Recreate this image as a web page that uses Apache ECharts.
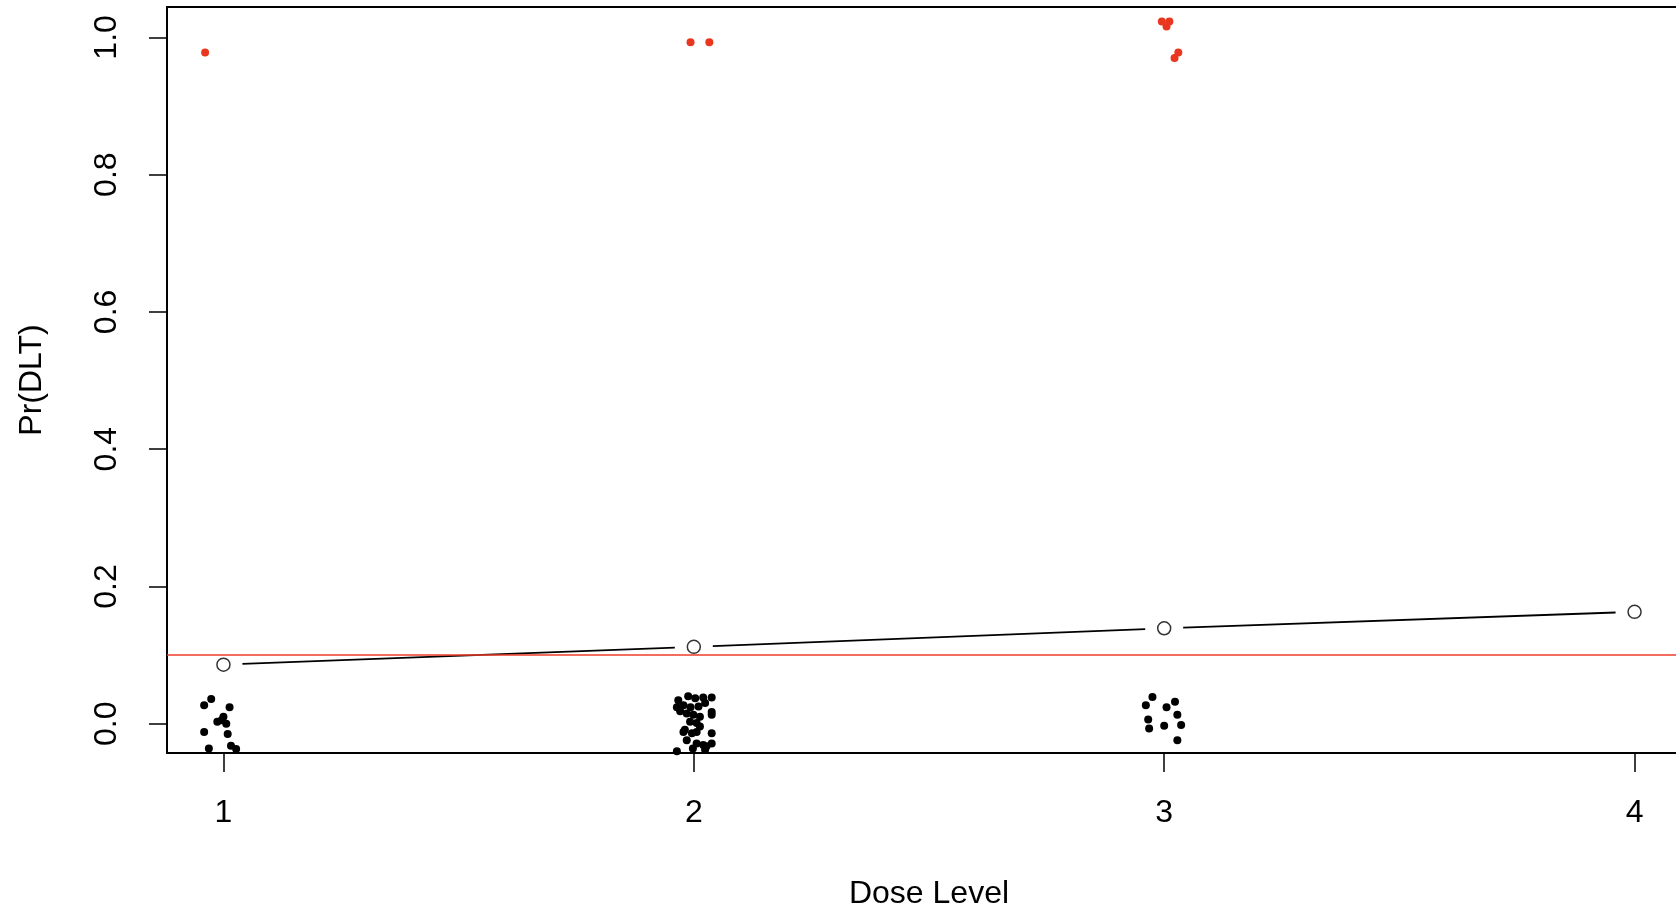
<!DOCTYPE html>
<html>
<head>
<meta charset="utf-8">
<title>Pr(DLT) by dose level</title>
<script src="https://cdn.jsdelivr.net/npm/echarts@6/dist/echarts.min.js"></script>
<style>
  html, body { margin: 0; padding: 0; background: #ffffff; }
  #main { width: 1676px; height: 910px; }
</style>
</head>
<body>
<div id="main"></div>
<script>
// dose levels and model estimate of Pr(DLT) at each one
var doseLevels = [1, 2, 3, 4];
var estProb = [0.086, 0.112, 0.139, 0.163];
var targetProb = 0.098;
var yTicks = [0, 0.2, 0.4, 0.6, 0.8, 1.0];

// jittered patients without DLT (plotted near 0)
var noDltX = [0.974, 0.959, 1.013, 1.000, 0.987, 0.996, 1.006, 0.959, 1.009, 0.969, 1.016, 1.027,
  1.967, 1.988, 2.003, 2.020, 2.038, 1.964, 1.978, 1.993, 2.010, 2.024, 2.038, 1.971, 1.985, 1.999,
  2.013, 2.038, 1.992, 2.006, 2.013, 1.981, 1.978, 1.996, 2.006, 2.038, 1.985, 2.006, 2.020, 2.038,
  2.027, 1.964, 1.998, 2.024,
  2.975, 2.961, 3.005, 3.023, 3.028, 2.966, 2.968, 3.000, 3.036, 3.028];
var noDltY = [0.036, 0.027, 0.024, 0.010, 0.003, 0.005, 0.000, -0.012, -0.015, -0.036, -0.032, -0.037,
  0.034, 0.040, 0.037, 0.038, 0.038, 0.024, 0.027, 0.024, 0.025, 0.030, 0.017, 0.018, 0.015, 0.013,
  0.010, 0.013, 0.003, 0.001, -0.004, -0.009, -0.012, -0.014, -0.012, -0.014, -0.024, -0.029, -0.031, -0.029,
  -0.033, -0.040, -0.036, -0.038,
  0.039, 0.027, 0.024, 0.032, 0.013, 0.006, -0.007, -0.003, -0.002, -0.024];

// jittered patients with DLT (plotted near 1)
var dltX = [0.961, 1.993, 2.033, 2.995, 3.011, 3.005, 3.030, 3.022];
var dltY = [0.978, 0.993, 0.993, 1.023, 1.023, 1.016, 0.978, 0.970];

var chart = echarts.init(document.getElementById('main'));

function zip(xs, ys) {
  var out = [];
  for (var i = 0; i < xs.length; i++) out.push([xs[i], ys[i]]);
  return out;
}

var curve = zip(doseLevels, estProb);
var segments = [];
for (var i = 0; i < curve.length - 1; i++) {
  segments.push([curve[i][0], curve[i][1], curve[i + 1][0], curve[i + 1][1]]);
}

var fontFam = '"Liberation Sans", Arial, sans-serif';
var gap = 19; // R type="b" leaves a gap round each point

var option = {
  backgroundColor: '#ffffff',
  animation: false,
  grid: {
    left: 167,
    top: 7,
    width: 1524,
    height: 746,
    outerBoundsMode: 'none',
    containLabel: false,
    show: true,
    borderColor: '#000000',
    borderWidth: 2,
    backgroundColor: 'transparent'
  },
  xAxis: {
    type: 'value',
    min: 0.88,
    max: 4.12,
    name: 'Dose Level',
    nameLocation: 'middle',
    nameGap: 125,
    nameTextStyle: { fontFamily: fontFam, fontSize: 32, color: '#000' },
    axisLine: { show: false, onZero: false },
    splitLine: { show: false },
    axisTick: {
      show: true, inside: false, length: 19,
      customValues: doseLevels,
      lineStyle: { color: '#000', width: 1.5 }
    },
    axisLabel: {
      show: true, margin: 44,
      customValues: doseLevels,
      fontFamily: fontFam, fontSize: 32, color: '#000'
    }
  },
  yAxis: {
    type: 'value',
    min: -0.0427,
    max: 1.0443,
    name: 'Pr(DLT)',
    nameLocation: 'middle',
    nameRotate: 90,
    nameGap: 119,
    nameTextStyle: { fontFamily: fontFam, fontSize: 32, color: '#000' },
    axisLine: { show: false, onZero: false },
    splitLine: { show: false },
    axisTick: {
      show: true, inside: false, length: 18,
      customValues: yTicks,
      lineStyle: { color: '#000', width: 1.5 }
    },
    axisLabel: {
      show: true, margin: 44, rotate: 90,
      customValues: yTicks,
      formatter: function (v) { return v.toFixed(1); },
      fontFamily: fontFam, fontSize: 32, color: '#000'
    }
  },
  series: [
    {
      // target toxicity line
      type: 'line',
      data: [],
      markLine: {
        silent: true,
        symbol: 'none',
        label: { show: false },
        lineStyle: { color: '#ee3b2b', width: 1.5, type: 'solid' },
        data: [{ yAxis: targetProb }]
      }
    },
    {
      // segments between estimates, with gaps near the circles
      type: 'custom',
      data: segments,
      renderItem: function (params, api) {
        var p1 = api.coord([api.value(0), api.value(1)]);
        var p2 = api.coord([api.value(2), api.value(3)]);
        var dx = p2[0] - p1[0], dy = p2[1] - p1[1];
        var len = Math.sqrt(dx * dx + dy * dy);
        var ux = dx / len, uy = dy / len;
        return {
          type: 'line',
          shape: {
            x1: p1[0] + ux * gap, y1: p1[1] + uy * gap,
            x2: p2[0] - ux * gap, y2: p2[1] - uy * gap
          },
          style: { stroke: '#000', lineWidth: 1.8 }
        };
      },
      z: 3
    },
    {
      type: 'scatter',
      data: curve,
      symbol: 'circle',
      symbolSize: 13,
      itemStyle: { color: '#ffffff', borderColor: '#000', borderWidth: 1.5 },
      z: 4
    },
    {
      type: 'scatter',
      data: zip(noDltX, noDltY),
      symbol: 'circle',
      symbolSize: 8,
      itemStyle: { color: '#000000', opacity: 1 },
      z: 5
    },
    {
      type: 'scatter',
      data: zip(dltX, dltY),
      symbol: 'circle',
      symbolSize: 8,
      itemStyle: { color: '#e9361f', opacity: 1 },
      z: 5
    }
  ]
};

chart.setOption(option);
window.addEventListener('resize', function () {
  chart.resize();
});
</script>
</body>
</html>
